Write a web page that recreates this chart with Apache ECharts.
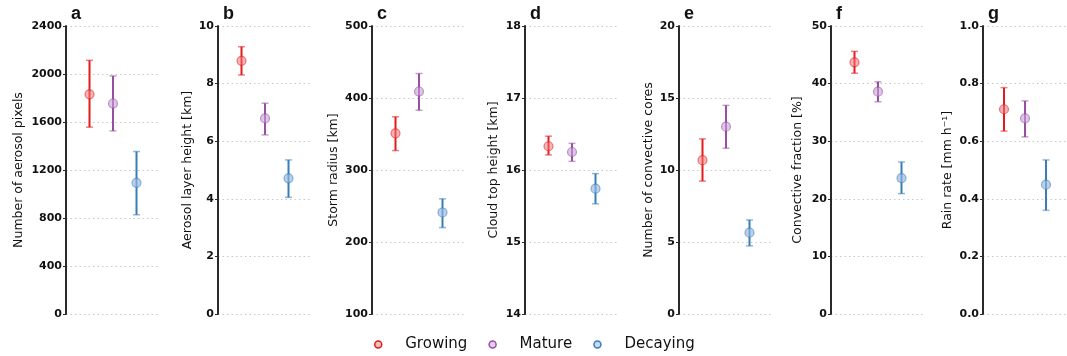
<!DOCTYPE html>
<html>
<head>
<meta charset="utf-8">
<script src="https://cdn.jsdelivr.net/npm/echarts@6/dist/echarts.min.js"></script>
<style>
html,body{margin:0;padding:0;background:#fff;}
#chart{width:1067px;height:356px;}
</style>
</head>
<body>
<div id="chart"></div>
<script>
// ---- data ----
const panelLabels = ['a', 'b', 'c', 'd', 'e', 'f', 'g'];
const yNames = ['Number of aerosol pixels', 'Aerosol layer height [km]', 'Storm radius [km]',
  'Cloud top height [km]', 'Number of convective cores', 'Convective fraction [%]', 'Rain rate [mm h\u207B\u00B9]'];
const yMin = [0, 0, 100, 14, 0, 0, 0];
const yMax = [2400, 10, 500, 18, 20, 50, 1];
const yInterval = [400, 2, 100, 1, 5, 10, 0.2];
const stateNames = ['Growing', 'Mature', 'Decaying'];

const growingMean = [1831, 8.79, 351, 16.33, 10.68, 43.7, 0.711];
const growingLow  = [1557, 8.30, 327, 16.21, 9.23, 41.8, 0.635];
const growingHigh = [2114, 9.28, 374, 16.47, 12.16, 45.6, 0.786];

const matureMean = [1754, 6.79, 409, 16.25, 13.01, 38.6, 0.679];
const matureLow  = [1526, 6.22, 383, 16.12, 11.51, 36.85, 0.615];
const matureHigh = [1984, 7.32, 434, 16.37, 14.49, 40.3, 0.740];

const decayingMean = [1093, 4.71, 241, 15.74, 5.65, 23.6, 0.449];
const decayingLow  = [827, 4.05, 220, 15.53, 4.73, 20.9, 0.360];
const decayingHigh = [1354, 5.35, 260, 15.95, 6.53, 26.4, 0.535];

// ---- styles ----
const FONT = 'DejaVu Sans';
const colors = ['#e41a1c', '#984ea3', '#377eb8'];
const fills = ['rgba(240,120,120,0.55)', 'rgba(200,160,215,0.6)', 'rgba(150,185,225,0.65)'];
const capColors = ['rgba(228,26,28,0.55)', 'rgba(152,78,163,0.55)', 'rgba(55,126,184,0.55)'];
const legendFills = ['rgba(240,120,120,0.45)', 'rgba(200,160,215,0.5)', 'rgba(150,185,225,0.55)'];
const gridLeft = [66, 218, 372, 525, 679, 831, 983];
const nameGaps = [41, 24, 32, 25, 24, 27, 29];
const GRID_W = 94, GRID_TOP = 26, GRID_BOTTOM = 42;

const means = [growingMean, matureMean, decayingMean];
const lows = [growingLow, matureLow, decayingLow];
const highs = [growingHigh, matureHigh, decayingHigh];

const grid = [], xAxis = [], yAxis = [], series = [], title = [];
panelLabels.forEach((lab, p) => {
  grid.push({left: gridLeft[p], top: GRID_TOP, width: GRID_W, bottom: GRID_BOTTOM, containLabel: false});
  xAxis.push({gridIndex: p, type: 'value', min: 0, max: 4, show: false, splitLine: {show: false}});
  yAxis.push({
    gridIndex: p, type: 'value', min: yMin[p], max: yMax[p], interval: yInterval[p],
    name: yNames[p], nameLocation: 'middle', nameGap: nameGaps[p],
    nameTextStyle: {fontFamily: FONT, fontSize: 12.5, color: '#111'},
    axisLine: {show: true, lineStyle: {color: '#2a2a2a', width: 2}},
    axisTick: {show: true, length: 3, lineStyle: {color: '#2a2a2a', width: 1}},
    axisLabel: {fontFamily: FONT, fontSize: 11, fontWeight: 'bold', color: '#111', margin: 4,
      formatter: v => (p === 6 ? v.toFixed(1) : String(v))},
    splitLine: {show: true, lineStyle: {color: '#c8c8c8', type: [1.5, 3], width: 1}}
  });
  title.push({text: lab, left: gridLeft[p] + 5, top: 5, padding: 0,
    textStyle: {fontFamily: 'Liberation Sans', fontWeight: 'bold', fontSize: 18, color: '#111'}});

  // error bars
  const ebData = stateNames.map((s, j) => [j + 1, lows[j][p], highs[j][p]]);
  series.push({
    type: 'custom', xAxisIndex: p, yAxisIndex: p, z: 2, silent: true,
    data: ebData,
    renderItem: (params, api) => {
      const j = params.dataIndex;
      const x = api.value(0);
      const lo = api.coord([x, api.value(1)]);
      const hi = api.coord([x, api.value(2)]);
      const cw = 3.5;
      return {type: 'group', children: [
        {type: 'line', shape: {x1: lo[0], y1: lo[1], x2: hi[0], y2: hi[1]},
          style: {stroke: colors[j], lineWidth: 2}},
        {type: 'line', shape: {x1: lo[0] - cw, y1: lo[1], x2: lo[0] + cw, y2: lo[1]},
          style: {stroke: capColors[j], lineWidth: 1.5}},
        {type: 'line', shape: {x1: hi[0] - cw, y1: hi[1], x2: hi[0] + cw, y2: hi[1]},
          style: {stroke: capColors[j], lineWidth: 1.5}}
      ]};
    }
  });
  // markers
  stateNames.forEach((s, j) => {
    series.push({
      name: s, type: 'scatter', xAxisIndex: p, yAxisIndex: p, z: 3,
      symbol: 'circle', symbolSize: 9,
      itemStyle: {color: fills[j], borderColor: capColors[j], borderWidth: 1.2, opacity: 1},
      data: [[j + 1, means[j][p]]]
    });
  });
});

const chart = echarts.init(document.getElementById('chart'), null, {renderer: 'canvas'});
chart.setOption({
  animation: false,
  backgroundColor: '#fff',
  title: title,
  grid: grid, xAxis: xAxis, yAxis: yAxis, series: series,
  legend: {
    left: 369, top: 332, orient: 'horizontal',
    itemWidth: 44, itemHeight: 7, itemGap: 21,
    textStyle: {fontFamily: FONT, fontSize: 15, color: '#111'},
    data: stateNames.map((s, j) => ({name: s, icon: 'circle',
      itemStyle: {color: legendFills[j], borderColor: colors[j], borderWidth: 1.5}}))
  }
});
</script>
</body>
</html>
